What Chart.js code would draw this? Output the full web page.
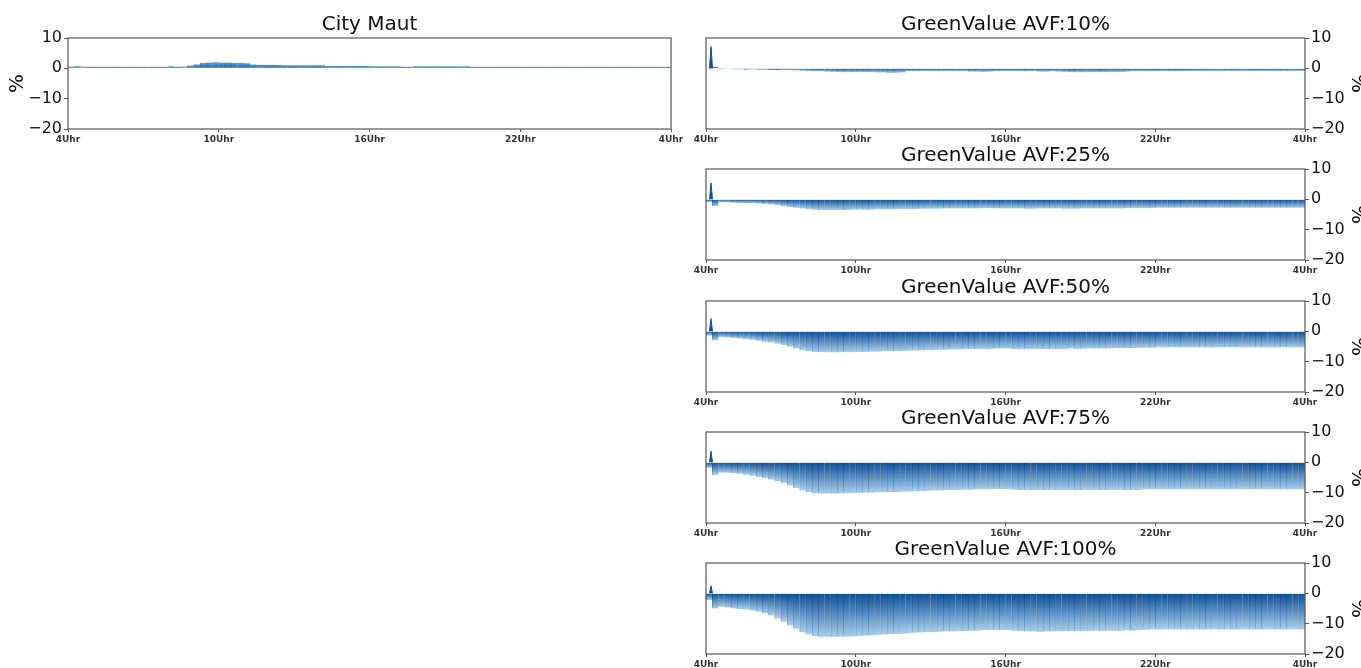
<!DOCTYPE html>
<html>
<head>
<meta charset="utf-8">
<script src="https://cdn.jsdelivr.net/npm/chart.js@4.4.1/dist/chart.umd.min.js"></script>
<style>
  html, body { margin: 0; padding: 0; background: #fff; overflow: hidden; }
  #wrap { position: relative; width: 1361px; height: 668px; overflow: hidden; }
  canvas { position: absolute; }
</style>
</head>
<body>
<div id="wrap"></div>
<script>
// 15-minute slots from 4Uhr to 4Uhr (96 values per series), in %
const START_HOUR = 4;
const SLOT_HOURS = 0.25;

const cityMaut = [
  0.5, 0.7, 0.6, 0.5,  0.5, 0.5, 0.5, 0.5,  0.5, 0.5, 0.5, 0.5,  0.5, 0.5, 0.5, 0.5,
  0.7, 0.5, 0.6, 0.9,  1.3, 1.8, 1.9, 2.0,  1.9, 1.9, 1.8, 1.8,  1.7, 1.3, 1.2, 1.2,
  1.2, 1.1, 1.0, 1.0,  1.0, 1.0, 1.0, 1.0,  1.0, 0.8, 0.8, 0.8,  0.8, 0.8, 0.8, 0.8,
  0.7, 0.7, 0.7, 0.7,  0.7, 0.5, 0.5, 0.7,  0.7, 0.7, 0.7, 0.7,  0.7, 0.7, 0.7, 0.7,
  0.5, 0.5, 0.5, 0.5,  0.5, 0.5, 0.5, 0.5,  0.5, 0.5, 0.5, 0.5,  0.5, 0.5, 0.5, 0.5,
  0.5, 0.5, 0.5, 0.5,  0.5, 0.5, 0.5, 0.5,  0.5, 0.5, 0.5, 0.5,  0.5, 0.5, 0.5, 0.5
];

const avf10 = [
  -0.3, 0.5, -0.3, -0.2,  -0.3, -0.3, -0.4, -0.3,  -0.4, -0.4, -0.5, -0.5,  -0.6, -0.6, -0.7, -0.8,
  -0.9, -1.0, -1.0, -1.1,  -1.2, -1.3, -1.3, -1.3,  -1.3, -1.3, -1.3, -1.4,  -1.4, -1.5, -1.5, -1.4,
  -1.0, -1.0, -1.0, -1.0,  -1.0, -1.0, -1.0, -1.0,  -1.0, -1.0, -1.1, -1.1,  -1.2, -1.1, -1.0, -1.0,
  -1.0, -1.0, -1.0, -1.0,  -1.0, -1.1, -1.1, -1.0,  -1.1, -1.2, -1.3, -1.3,  -1.3, -1.3, -1.3, -1.3,
  -1.3, -1.3, -1.2, -1.1,  -1.0, -1.0, -1.0, -1.0,  -1.0, -1.0, -1.0, -1.0,  -1.0, -1.0, -0.9, -0.9,
  -0.9, -0.9, -0.9, -0.9,  -0.9, -0.9, -0.9, -0.9,  -0.9, -0.9, -0.9, -0.9,  -0.9, -0.9, -0.9, -0.9
];

const avf25 = [
  -0.9, -2.3, -1.0, -1.0,  -1.1, -1.2, -1.3, -1.3,  -1.4, -1.5, -1.7, -1.9,  -2.2, -2.5, -2.8, -3.0,
  -3.2, -3.4, -3.5, -3.5,  -3.5, -3.5, -3.5, -3.4,  -3.4, -3.4, -3.4, -3.3,  -3.3, -3.3, -3.3, -3.2,
  -3.2, -3.2, -3.1, -3.1,  -3.1, -3.1, -3.0, -3.0,  -3.0, -3.0, -3.0, -3.0,  -2.9, -2.9, -3.0, -3.0,
  -3.0, -3.0, -3.0, -3.1,  -3.1, -3.0, -3.0, -3.0,  -3.0, -3.1, -3.1, -3.1,  -3.0, -3.0, -3.0, -3.0,
  -3.0, -3.0, -3.0, -2.9,  -2.9, -2.9, -2.9, -2.9,  -2.8, -2.8, -2.8, -2.8,  -2.8, -2.8, -2.8, -2.8,
  -2.8, -2.8, -2.8, -2.8,  -2.8, -2.8, -2.8, -2.8,  -2.8, -2.8, -2.8, -2.8,  -2.8, -2.8, -2.8, -2.8
];

const avf50 = [
  -1.4, -3.0, -1.9, -2.0,  -2.2, -2.4, -2.6, -2.8,  -3.1, -3.4, -3.7, -4.1,  -4.6, -5.1, -5.7, -6.2,
  -6.6, -6.8, -6.9, -6.9,  -7.0, -6.9, -6.9, -6.9,  -6.8, -6.8, -6.7, -6.7,  -6.6, -6.6, -6.5, -6.5,
  -6.4, -6.3, -6.3, -6.2,  -6.2, -6.1, -6.1, -6.0,  -6.0, -5.9, -5.9, -5.8,  -5.8, -5.8, -5.7, -5.7,
  -5.7, -5.8, -5.8, -5.9,  -5.9, -5.9, -5.8, -5.8,  -5.8, -5.8, -5.7, -5.8,  -5.8, -5.7, -5.7, -5.7,
  -5.7, -5.6, -5.6, -5.6,  -5.5, -5.5, -5.4, -5.4,  -5.3, -5.3, -5.3, -5.3,  -5.3, -5.3, -5.3, -5.3,
  -5.3, -5.3, -5.3, -5.3,  -5.3, -5.3, -5.3, -5.3,  -5.3, -5.3, -5.3, -5.3,  -5.3, -5.3, -5.3, -5.3
];

const avf75 = [
  -1.8, -4.2, -3.4, -3.4,  -3.6, -3.8, -4.1, -4.4,  -4.8, -5.2, -5.7, -6.2,  -6.8, -7.6, -8.5, -9.3,
  -9.9, -10.2, -10.3, -10.3,  -10.3, -10.3, -10.2, -10.2,  -10.1, -10.0, -10.0, -9.9,  -9.9, -9.8, -9.8, -9.7,
  -9.6, -9.5, -9.5, -9.4,  -9.3, -9.3, -9.2, -9.1,  -9.1, -9.0, -9.0, -8.9,  -8.9, -8.9, -8.8, -8.8,
  -8.9, -9.0, -9.1, -9.1,  -9.2, -9.2, -9.2, -9.2,  -9.1, -9.1, -9.1, -9.2,  -9.2, -9.1, -9.1, -9.1,
  -9.1, -9.1, -9.0, -9.1,  -9.1, -9.1, -8.9, -8.9,  -8.9, -8.9, -8.9, -8.9,  -8.9, -8.9, -8.9, -8.9,
  -8.9, -8.9, -8.9, -8.9,  -8.9, -8.9, -8.9, -8.9,  -8.9, -8.9, -8.9, -8.9,  -8.9, -8.9, -8.9, -8.9
];

const avf100 = [
  -2.2, -5.0, -4.4, -4.7,  -5.0, -5.2, -5.3, -5.7,  -6.1, -6.6, -7.3, -8.3,  -9.4, -10.6, -11.7, -12.8,
  -13.6, -14.1, -14.3, -14.3,  -14.4, -14.3, -14.3, -14.2,  -14.1, -14.0, -13.9, -13.8,  -13.6, -13.5, -13.4, -13.3,
  -13.1, -13.0, -12.9, -12.8,  -12.8, -12.7, -12.6, -12.6,  -12.5, -12.4, -12.3, -12.3,  -12.2, -12.1, -12.1, -12.1,
  -12.2, -12.3, -12.5, -12.6,  -12.6, -12.7, -12.6, -12.6,  -12.5, -12.5, -12.4, -12.4,  -12.4, -12.4, -12.3, -12.4,
  -12.3, -12.3, -12.3, -12.2,  -12.3, -12.2, -12.0, -11.9,  -11.9, -11.9, -11.9, -11.9,  -11.9, -11.9, -11.9, -11.9,
  -11.9, -11.8, -11.9, -11.9,  -11.9, -11.9, -11.9, -11.9,  -11.9, -11.9, -11.9, -11.9,  -11.9, -11.9, -11.9, -11.9
];

// short start-up peak right after 4Uhr
const spikeTimes = [4.14, 4.2, 4.26];
const spike10 = [0, 7.2, 0];
const spike25 = [0, 5.4, 0];
const spike50 = [0, 4.2, 0];
const spike75 = [0, 3.7, 0];
const spike100 = [0, 2.5, 0];

const yTicks = [-20, -10, 0, 10];
const xTicks = [4, 10, 16, 22, 28];

Chart.defaults.font.family = "'DejaVu Sans', sans-serif";
Chart.defaults.color = '#111';

const panels = [
  { title: 'City Maut', values: cityMaut, spike: null, side: 'left', left: 0, top: 0, width: 690,
    colors: ['#1c64ab', '#5e9dd5', '#17589a', '#4a8cc6'] },
  { title: 'GreenValue AVF:10%', values: avf10, spike: spike10, side: 'right', left: 650, top: 0, width: 730 },
  { title: 'GreenValue AVF:25%', values: avf25, spike: spike25, side: 'right', left: 650, top: 131, width: 730 },
  { title: 'GreenValue AVF:50%', values: avf50, spike: spike50, side: 'right', left: 650, top: 263, width: 730 },
  { title: 'GreenValue AVF:75%', values: avf75, spike: spike75, side: 'right', left: 650, top: 394, width: 730 },
  { title: 'GreenValue AVF:100%', values: avf100, spike: spike100, side: 'right', left: 650, top: 525, width: 730 }
];
// fill top, fill bottom, stripe top, stripe bottom
const avfColors = ['#0b4f98', '#abcfea', '#083f7c', '#7eb2dc'];

const frame = {
  id: 'frame',
  afterDatasetsDraw(chart) {
    const { ctx, chartArea: a } = chart;
    ctx.save();
    ctx.strokeStyle = '#555';
    ctx.lineWidth = 1.2;
    ctx.strokeRect(a.left, a.top, a.width, a.height);
    ctx.restore();
  }
};

const minus = (v) => (v < 0 ? '\u2212' + Math.abs(v) : String(v));

function barGradient(dark, light) {
  return (c) => {
    if (c.type !== 'data' || !c.chart.chartArea) return dark;
    const y = c.chart.scales.y;
    const p0 = y.getPixelForValue(0);
    const p1 = y.getPixelForValue(c.parsed.y);
    if (!isFinite(p0) || !isFinite(p1) || Math.abs(p1 - p0) < 1.6) return dark;
    const g = c.chart.ctx.createLinearGradient(0, p0, 0, p1);
    g.addColorStop(0, dark);
    g.addColorStop(1, light);
    return g;
  };
}

function makeChart(p) {
  const canvas = document.createElement('canvas');
  canvas.width = p.width;
  canvas.height = 147;
  canvas.style.left = p.left + 'px';
  canvas.style.top = p.top + 'px';
  document.getElementById('wrap').appendChild(canvas);

  const col = p.colors || avfColors;
  const datasets = [{
    type: 'bar',
    data: p.values.map((v, i) => ({ x: START_HOUR + (i + 0.5) * SLOT_HOURS, y: v })),
    backgroundColor: barGradient(col[0], col[1]),
    borderColor: barGradient(col[2], col[3]),
    borderWidth: { left: 1, right: 0, top: 0, bottom: 0 },
    borderSkipped: false,
    inflateAmount: 0.3,
    categoryPercentage: 1,
    barPercentage: 1,
    order: 2
  }];
  if (p.spike) {
    datasets.push({
      type: 'line',
      data: spikeTimes.map((t, i) => ({ x: t, y: p.spike[i] })),
      borderColor: '#0b4f98',
      backgroundColor: '#0b4f98',
      borderWidth: 1,
      pointRadius: 0,
      fill: 'origin',
      tension: 0,
      order: 1
    });
  }

  const isLeft = p.side === 'left';
  const chart = new Chart(canvas, {
    type: 'bar',
    data: { datasets },
    plugins: [frame],
    options: {
      responsive: false,
      animation: false,
      devicePixelRatio: 1,
      layout: { padding: isLeft ? { left: 0, right: 19, top: 0, bottom: 0 } : { left: 56, right: 0, top: 0, bottom: 0 } },
      plugins: {
        legend: { display: false },
        tooltip: { enabled: false },
        title: {
          display: true,
          text: p.title,
          fullSize: false,
          color: '#111',
          font: { size: 20, weight: 'normal' },
          padding: { top: 13, bottom: 1 }
        }
      },
      scales: {
        x: {
          type: 'linear',
          min: xTicks[0],
          max: xTicks[xTicks.length - 1],
          offset: false,
          afterBuildTicks: (s) => { s.ticks = xTicks.map((v) => ({ value: v })); },
          afterFit: (s) => { s.height = 18; },
          grid: { display: true, drawOnChartArea: false, drawTicks: true, tickLength: 3, color: '#555', offset: false },
          border: { display: false },
          ticks: {
            autoSkip: false,
            maxRotation: 0,
            padding: 2,
            color: '#333',
            font: { size: 9, weight: 'bold' },
            callback: (v) => (v % 24) + 'Uhr'
          }
        },
        y: {
          position: isLeft ? 'left' : 'right',
          min: yTicks[0],
          max: yTicks[yTicks.length - 1],
          afterBuildTicks: (s) => { s.ticks = yTicks.map((v) => ({ value: v })); },
          afterFit: (s) => { s.width = isLeft ? 68 : 75; },
          grid: { display: true, drawOnChartArea: false, drawTicks: true, tickLength: 4, color: '#555' },
          border: { display: false },
          ticks: { padding: 2, color: '#111', font: { size: 16 }, callback: (v) => minus(v) },
          title: {
            display: true,
            text: '%',
            color: '#111',
            font: { size: 20 },
            padding: { top: isLeft ? 6 : 11, bottom: 0 }
          }
        }
      }
    }
  });
  // re-run once the scales are laid out so every bar gets its own gradient
  chart.update('none');
  return chart;
}

panels.forEach(makeChart);
</script>
</body>
</html>
